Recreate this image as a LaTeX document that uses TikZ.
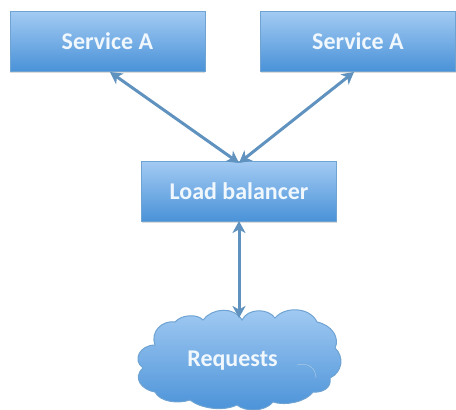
\documentclass[tikz,border=0pt]{standalone}
\usepackage{fontspec}
\setmainfont{Carlito}
\usetikzlibrary{arrows.meta,shadows}
\definecolor{topblue}{HTML}{A3CBF3}
\definecolor{botblue}{HTML}{4A92D8}
\definecolor{edgeblue}{HTML}{6FA3D2}
\definecolor{linkblue}{HTML}{5F92BE}
\definecolor{textwhite}{HTML}{F0F7FD}
\tikzset{
  svcbox/.style={rectangle,minimum width=195pt,minimum height=60pt,inner sep=0pt,
    top color=topblue,bottom color=botblue,draw=edgeblue,line width=.8pt,
    text=textwhite,font=\fontsize{24}{28}\selectfont\bfseries,
    drop shadow={shadow xshift=0pt,shadow yshift=-1.5pt,fill=black!30,opacity=.45}},
  link/.style={draw=linkblue,line width=3pt,{Stealth[length=12pt,width=13pt,inset=3.5pt]}-{Stealth[length=12pt,width=13pt,inset=3.5pt]}},
  cloudlabel/.style={text=textwhite,font=\fontsize{24}{28}\selectfont\bfseries,inner sep=0pt}
}
\begin{document}
\begin{tikzpicture}[x=1pt,y=-1pt]
\useasboundingbox (0,0) rectangle (456,410);
\node[svcbox] (a) at (107.5,41) {Service A};
\node[svcbox] (b) at (358,41) {Service A};
\node[svcbox] (lb) at (239,191) {Load balancer};
\path[top color=topblue,bottom color=botblue,draw=edgeblue,line width=1pt]
 (242,320) .. controls (248,308) and (268,308) .. (275,318)
 .. controls (285,306) and (310,307) .. (317,322)
 .. controls (332,325) and (340,338) .. (335,348)
 .. controls (344,356) and (343,372) .. (330,378)
 .. controls (332,388) and (322,393) .. (313,392)
 .. controls (306,402) and (285,406) .. (273,402)
 .. controls (265,412) and (245,412) .. (237,405)
 .. controls (222,412) and (200,408) .. (190,400)
 .. controls (178,404) and (160,402) .. (155,392)
 .. controls (142,390) and (132,378) .. (143,368)
 .. controls (132,360) and (140,345) .. (155,345)
 .. controls (150,332) and (162,320) .. (175,322)
 .. controls (182,314) and (198,314) .. (203,320)
 .. controls (212,308) and (234,306) .. (242,320) -- cycle;
\draw[edgeblue!60!white,line width=.5pt] (297,365) .. controls (308,362) and (316,368) .. (316,378);
\node[cloudlabel] (req) at (232.5,361) {Requests};
\coordinate (cloudtop) at (239,318);
\coordinate (atip) at (110,72);
\coordinate (btip) at (354,72);
\coordinate (lbtip) at (239,163);
\coordinate (lbbot) at (239,221);
\draw[link] (atip) -- (lbtip);
\draw[link] (btip) -- (lbtip);
\draw[link] (lbbot) -- (cloudtop);
\end{tikzpicture}
\end{document}
